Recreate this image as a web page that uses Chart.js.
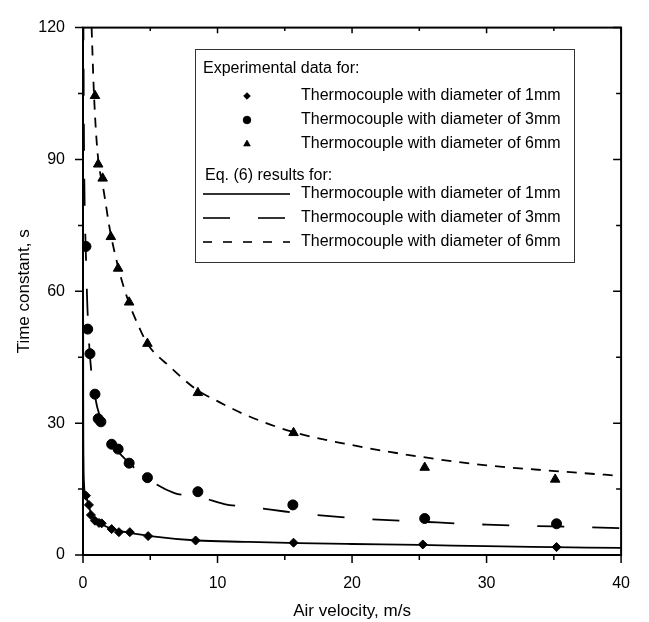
<!doctype html>
<html lang="en">
<head>
  <meta charset="utf-8">
  <title>Time constant vs air velocity</title>
  <style>
    * { margin: 0; padding: 0; }
    body { background: white; }
    .chartBox { width: 649px; height: 622px; position: relative; }
  </style>
</head>
<body>
<div class="chartBox">
  <canvas id="myChart"></canvas>
</div>

<script src="https://cdn.jsdelivr.net/npm/chart.js"></script>
<script>
  const d1x = [0.22, 0.44, 0.59, 0.89, 1.19, 1.39, 2.13, 2.67, 3.48, 4.84, 8.37, 15.65, 25.26, 35.2];
  const d1y = [13.5, 11.4, 9.1, 7.8, 7.3, 7.2, 5.9, 5.2, 5.2, 4.3, 3.3, 2.8, 2.4, 1.8];

  const d3x = [0.22, 0.35, 0.52, 0.89, 1.13, 1.33, 2.13, 2.61, 3.43, 4.79, 8.54, 15.6, 25.4, 35.2];
  const d3y = [70.2, 51.4, 45.8, 36.6, 31.0, 30.3, 25.2, 24.1, 20.9, 17.6, 14.4, 11.4, 8.3, 7.1];

  const d6x = [0.89, 1.13, 1.46, 2.07, 2.61, 3.43, 4.79, 8.54, 15.65, 25.4, 35.1];
  const d6y = [104.5, 88.9, 85.7, 72.4, 65.2, 57.5, 48.1, 36.9, 27.8, 19.9, 17.2];

  // Eq. (6) curves
  const c1x = [0.005, 0.01, 0.02, 0.04, 0.08, 0.15, 0.25, 0.4, 0.6, 0.9, 1.4, 2, 3, 5, 8.5, 12, 16, 20, 25, 30, 35, 40];
  const c1y = [120, 60, 32, 21, 16, 14.2, 13.2, 11.5, 9.5, 8.0, 7.0, 6.1, 5.3, 4.3, 3.3, 3.0, 2.7, 2.5, 2.3, 2.0, 1.8, 1.6];

  const c3x = [0.03, 0.07, 0.12, 0.2, 0.32, 0.5, 0.9, 1.3, 2, 2.6, 3.4, 4.8, 6.8, 8.7, 10.5, 13, 15, 17, 21, 25, 30, 35, 40];
  const c3y = [120, 95, 80, 70, 57, 46, 36, 31, 25.5, 23.5, 21, 17.4, 14.1, 13.2, 11.6, 10.7, 9.9, 9.2, 8.2, 7.6, 6.9, 6.5, 6.1];

  const c6x = [0.64, 0.8, 0.95, 1.13, 1.3, 1.5, 2.0, 2.7, 3.4, 4.0, 4.8, 6.4, 8.5, 10, 12, 15.6, 20, 25.2, 30, 35.1, 40];
  const c6y = [120, 106, 97, 90, 86.5, 83.5, 74, 64.5, 57.5, 53, 48, 43, 37.5, 35, 32, 28, 25, 22.3, 20.4, 19.1, 18.0];

  // axes
  const xTicks = [0, 10, 20, 30, 40];
  const xMinor = [5, 15, 25, 35];
  const yTicks = [0, 30, 60, 90, 120];
  const yMinor = [15, 45, 75, 105];

  const labels = ['Thermocouple with diameter of 1mm', 'Thermocouple with diameter of 3mm', 'Thermocouple with diameter of 6mm'];

  const FONT = 'Liberation Sans, Arial, sans-serif';

  function pts(xs, ys) {
    return xs.map((x, i) => ({x: x, y: ys[i]}));
  }

  // frame + tick marks (outward on left/bottom, inward on top/right)
  const framePlugin = {
    id: 'frame',
    afterDatasetsDraw(chart) {
      const {ctx, chartArea: a, scales: {x, y}} = chart;
      ctx.save();
      ctx.strokeStyle = '#000';
      ctx.lineWidth = 2;
      ctx.strokeRect(a.left, a.top, a.right - a.left, a.bottom - a.top);
      ctx.lineWidth = 1.5;
      ctx.beginPath();
      const tx = (v, len) => {
        const px = x.getPixelForValue(v);
        ctx.moveTo(px, a.bottom); ctx.lineTo(px, a.bottom + len);
        ctx.moveTo(px, a.top); ctx.lineTo(px, a.top + len * 0.7);
      };
      const ty = (v, len) => {
        const py = y.getPixelForValue(v);
        ctx.moveTo(a.left, py); ctx.lineTo(a.left - len, py);
        ctx.moveTo(a.right, py); ctx.lineTo(a.right - len, py);
      };
      xTicks.forEach(v => tx(v, 8));
      xMinor.forEach(v => tx(v, 5));
      yTicks.forEach(v => ty(v, 8));
      yMinor.forEach(v => ty(v, 5));
      ctx.stroke();
      ctx.restore();
    }
  };

  // legend box drawn like the figure
  const legendPlugin = {
    id: 'boxLegend',
    afterDraw(chart) {
      const ctx = chart.ctx;
      const bx = 195, by = 49, bw = 379, bh = 213;
      ctx.save();
      ctx.fillStyle = '#fff';
      ctx.fillRect(bx, by, bw, bh);
      ctx.strokeStyle = '#333';
      ctx.lineWidth = 1;
      ctx.strokeRect(bx + 0.5, by + 0.5, bw, bh);

      ctx.fillStyle = '#000';
      ctx.font = '16px ' + FONT;
      ctx.textBaseline = 'middle';
      ctx.textAlign = 'left';
      ctx.fillText('Experimental data for:', 203, 69);
      ctx.fillText('Eq. (6) results for:', 205, 176);

      const rowsA = [96, 120, 144];
      const styles = ['rectRot', 'circle', 'triangle'];
      const radii = [3.3, 3.8, 3.8];
      rowsA.forEach((ry, i) => {
        Chart.helpers.drawPoint(ctx, {pointStyle: styles[i], radius: radii[i], borderWidth: 1, rotation: 0}, 247, ry);
        ctx.fillStyle = '#000';
        ctx.fill();
        ctx.fillText(labels[i], 301, ry);
      });

      const rowsB = [194, 218, 242];
      const dashes = [[], [27, 28], [9, 11]];
      rowsB.forEach((ry, i) => {
        ctx.beginPath();
        ctx.setLineDash(dashes[i]);
        ctx.lineWidth = 1.8;
        ctx.moveTo(203, ry);
        ctx.lineTo(290, ry);
        ctx.stroke();
        ctx.setLineDash([]);
        ctx.fillText(labels[i], 301, ry);
      });
      ctx.restore();
    }
  };

  const whiteBg = {
    id: 'whiteBg',
    beforeDraw(chart) {
      const ctx = chart.ctx;
      ctx.save();
      ctx.fillStyle = '#fff';
      ctx.fillRect(0, 0, chart.width, chart.height);
      ctx.restore();
    }
  };

  const markerBase = {
    type: 'scatter',
    showLine: false,
    backgroundColor: '#000',
    borderColor: '#000',
    borderWidth: 1
  };
  const lineBase = {
    type: 'scatter',
    showLine: true,
    pointRadius: 0,
    pointHoverRadius: 0,
    borderColor: '#000',
    borderWidth: 1.8,
    cubicInterpolationMode: 'monotone',
    fill: false
  };

  const data = {
    datasets: [
      Object.assign({}, markerBase, {label: 'exp 1mm', data: pts(d1x, d1y), pointStyle: 'rectRot', pointRadius: 4.5}),
      Object.assign({}, markerBase, {label: 'exp 3mm', data: pts(d3x, d3y), pointStyle: 'circle', pointRadius: 5}),
      Object.assign({}, markerBase, {label: 'exp 6mm', data: pts(d6x, d6y), pointStyle: 'triangle', pointRadius: 5.5}),
      Object.assign({}, lineBase, {label: 'eq 1mm', data: pts(c1x, c1y)}),
      Object.assign({}, lineBase, {label: 'eq 3mm', data: pts(c3x, c3y), borderDash: [27, 28], borderDashOffset: 14}),
      Object.assign({}, lineBase, {label: 'eq 6mm', data: pts(c6x, c6y), borderDash: [10, 8]})
    ]
  };

  const config = {
    type: 'scatter',
    data,
    options: {
      responsive: true,
      maintainAspectRatio: false,
      animation: false,
      layout: { padding: { top: 16, right: 26, left: 0, bottom: 0 } },
      scales: {
        x: {
          type: 'linear',
          min: 0,
          max: 40,
          afterFit: (s) => { s.height = 67; },
          afterBuildTicks: (s) => { s.ticks = xTicks.map(v => ({value: v})); },
          ticks: { color: '#000', padding: 19, maxRotation: 0, font: { size: 16, family: FONT } },
          grid: { display: false, drawTicks: false },
          border: { display: false },
          title: {
            display: true,
            text: 'Air velocity, m/s',
            color: '#000',
            padding: { top: 0, bottom: 0 },
            font: { size: 17, family: FONT }
          }
        },
        y: {
          type: 'linear',
          min: 0,
          max: 120,
          afterFit: (s) => { s.width = 83; },
          afterBuildTicks: (s) => { s.ticks = yTicks.map(v => ({value: v})); },
          ticks: { color: '#000', padding: 18, font: { size: 16, family: FONT } },
          grid: { display: false, drawTicks: false },
          border: { display: false },
          title: {
            display: true,
            text: 'Time constant, s',
            color: '#000',
            padding: { top: 14, bottom: 0 },
            font: { size: 17, family: FONT }
          }
        }
      },
      plugins: {
        legend: { display: false },
        tooltip: { enabled: false }
      }
    },
    plugins: [whiteBg, framePlugin, legendPlugin]
  };

  const myChart = new Chart(document.getElementById('myChart'), config);
</script>
</body>
</html>
